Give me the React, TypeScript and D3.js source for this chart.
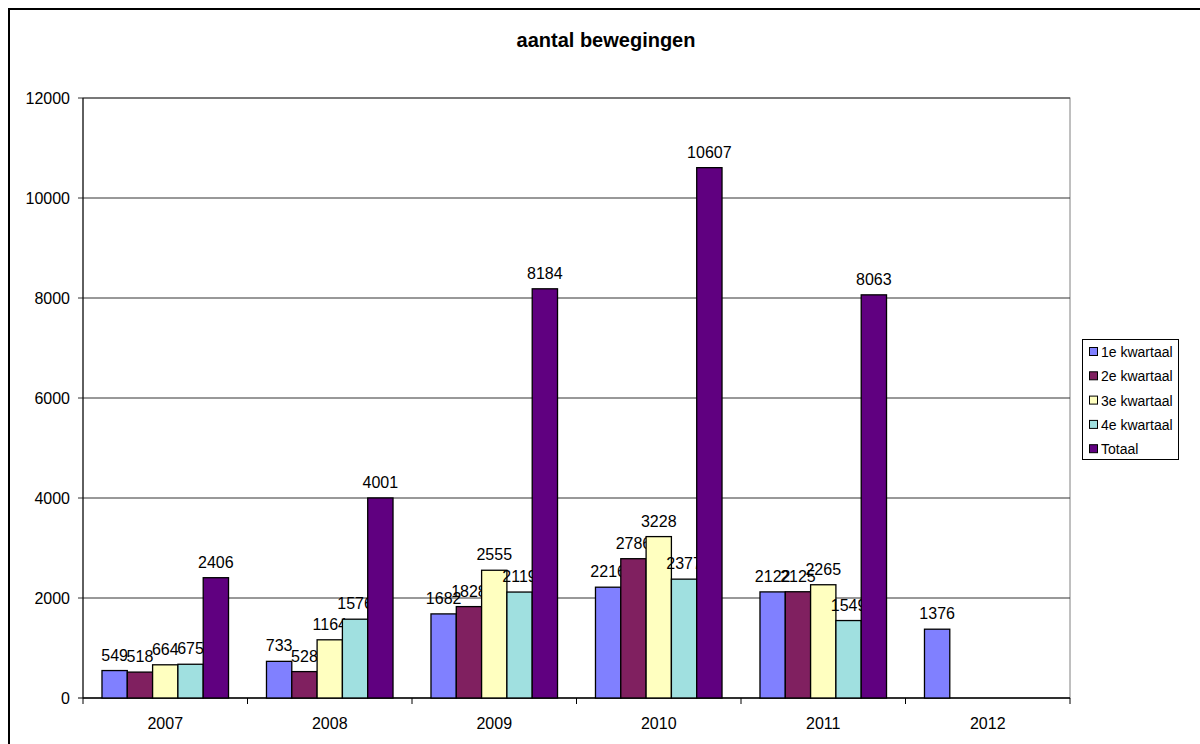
import React from "react";
import * as d3 from "d3";

const years = ["2007", "2008", "2009", "2010", "2011", "2012"];
const seriesNames = ["1e kwartaal", "2e kwartaal", "3e kwartaal", "4e kwartaal", "Totaal"];
const kwartaal1 = [549, 733, 1682, 2216, 2122, 1376];
const kwartaal2 = [518, 528, 1828, 2786, 2125, null];
const kwartaal3 = [664, 1164, 2555, 3228, 2265, null];
const kwartaal4 = [675, 1576, 2119, 2377, 1549, null];
const totaal = [2406, 4001, 8184, 10607, 8063, null];
const yTicks = [0, 2000, 4000, 6000, 8000, 10000, 12000];

const seriesValues = [kwartaal1, kwartaal2, kwartaal3, kwartaal4, totaal];
const colors = ["#8080ff", "#802060", "#ffffc0", "#a0e0e0", "#600080"];

const font = "'Liberation Sans', Arial, sans-serif";

export default function App() {
  const left = 83;
  const right = 1070;
  const top = 98;
  const bottom = 698;

  const x = d3.scaleBand().domain(years).range([left, right]);
  const y = d3.scaleLinear().domain([0, 12000]).range([bottom, top]);
  const bw = x.bandwidth();
  // excel gap width 150% -> bar = band / 6.5
  const barW = bw / 6.5;
  const offset = (bw - barW * seriesNames.length) / 2;

  const bounds = x.domain().map((d) => x(d));
  bounds.push(right);

  return (
    <svg
      width={1200}
      height={744}
      style={{ position: "absolute", left: 0, top: 0, display: "block", fontFamily: font }}
    >
      <rect x={0} y={0} width={1200} height={744} fill="#fff" />
      <rect x={9} y={9} width={1200} height={800} fill="#fff" stroke="#000" strokeWidth={2} />

      <text x={606} y={47} textAnchor="middle" fontSize={20} fontWeight="bold">
        aantal bewegingen
      </text>

      {/* plot area */}
      <rect x={left} y={top} width={right - left} height={bottom - top} fill="#fff" stroke="#808080" />
      {yTicks.map((t) => (
        <g key={t}>
          <line x1={left - 5} x2={right} y1={y(t)} y2={y(t)} stroke={t === 0 ? "#000" : "#333"} />
          <text x={70} y={y(t) + 6} textAnchor="end" fontSize={16}>
            {t}
          </text>
        </g>
      ))}
      <line x1={left} x2={left} y1={top} y2={bottom} stroke="#000" />
      <line x1={left} x2={right} y1={bottom} y2={bottom} stroke="#000" />
      {bounds.map((b, i) => (
        <line key={i} x1={b} x2={b} y1={bottom} y2={bottom + 6} stroke="#000" />
      ))}
      {years.map((yr) => (
        <text key={yr} x={x(yr)! + bw / 2} y={729} textAnchor="middle" fontSize={16}>
          {yr}
        </text>
      ))}

      {seriesValues.map((vals, si) => (
        <g key={si}>
          {vals.map((v, i) => {
            if (v == null) return null;
            const bx = x(years[i])! + offset + si * barW;
            return (
              <g key={i}>
                <rect
                  x={bx}
                  y={y(v)}
                  width={barW}
                  height={bottom - y(v)}
                  fill={colors[si]}
                  stroke="#000"
                  strokeWidth={1.3}
                />
                <text x={bx + barW / 2} y={y(v) - 10} textAnchor="middle" fontSize={16}>
                  {v}
                </text>
              </g>
            );
          })}
        </g>
      ))}

      {/* legend */}
      <rect x={1082.5} y={339.5} width={96} height={120} fill="#fff" stroke="#000" />
      {seriesNames.map((n, i) => (
        <g key={n} transform={`translate(1089,${352 + i * 24.3})`}>
          <rect x={0.5} y={-4.5} width={8} height={8} fill={colors[i]} stroke="#000" />
          <text x={12} y={5} fontSize={14}>
            {n}
          </text>
        </g>
      ))}
    </svg>
  );
}
